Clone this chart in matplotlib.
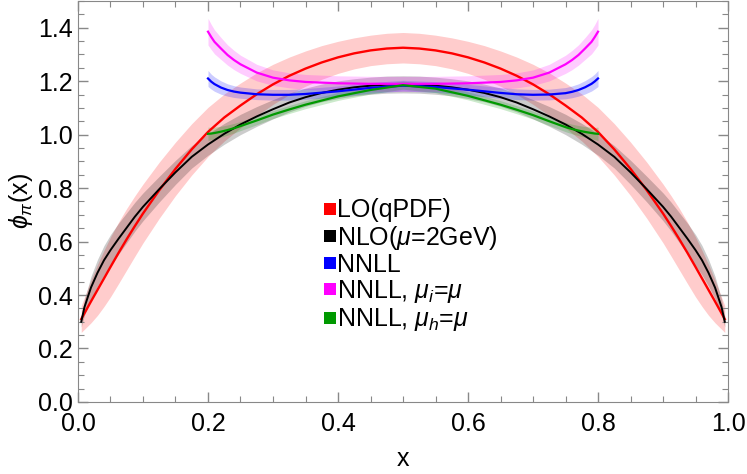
import matplotlib
matplotlib.use("Agg")
import matplotlib.pyplot as plt
from matplotlib.lines import Line2D
from matplotlib.ticker import MultipleLocator, FormatStrFormatter

plt.rcParams['font.family'] = ['Liberation Sans', 'DejaVu Sans']
plt.rcParams['mathtext.fontset'] = 'custom'
plt.rcParams['mathtext.rm'] = 'Liberation Sans'
plt.rcParams['mathtext.it'] = 'Liberation Sans:italic'

# LO (qPDF) and NLO curves
lo_x = [0.005, 0.01, 0.02, 0.03, 0.04, 0.05, 0.0625, 0.075, 0.0875, 0.1, 0.125, 0.15, 0.175, 0.2,
        0.225, 0.25, 0.275, 0.3, 0.325, 0.35, 0.375, 0.4, 0.425, 0.45, 0.475, 0.5,
        0.525, 0.55, 0.575, 0.6, 0.625, 0.65, 0.675, 0.7, 0.725, 0.75, 0.775,
        0.8, 0.825, 0.85, 0.875, 0.9, 0.9125, 0.925, 0.9375, 0.95, 0.96, 0.97, 0.98, 0.99, 0.995]
lo_y = [0.31, 0.332, 0.376, 0.419, 0.462, 0.505, 0.558, 0.609, 0.658, 0.705, 0.792, 0.872, 0.945, 1.01,
        1.064, 1.109, 1.151, 1.188, 1.22, 1.247, 1.27, 1.289, 1.304, 1.315, 1.322, 1.325,
        1.322, 1.315, 1.304, 1.289, 1.27, 1.247, 1.22, 1.188, 1.151, 1.109, 1.064,
        1.01, 0.945, 0.872, 0.792, 0.705, 0.658, 0.609, 0.558, 0.505, 0.462, 0.419, 0.376, 0.332, 0.31]
lo_err = [0.05, 0.06, 0.08, 0.095, 0.105, 0.112, 0.115, 0.115, 0.113, 0.11, 0.105, 0.1, 0.096, 0.092,
          0.088, 0.084, 0.08, 0.075, 0.07, 0.066, 0.063, 0.06, 0.058, 0.057, 0.057, 0.057,
          0.057, 0.057, 0.058, 0.06, 0.063, 0.066, 0.07, 0.075, 0.08, 0.084, 0.088,
          0.092, 0.096, 0.1, 0.105, 0.11, 0.113, 0.115, 0.115, 0.112, 0.105, 0.095, 0.08, 0.06, 0.05]
nlo_y = [0.30, 0.355, 0.428, 0.483, 0.53, 0.568, 0.611, 0.652, 0.693, 0.73, 0.796, 0.859, 0.917, 0.963,
         1.003, 1.038, 1.068, 1.095, 1.12, 1.14, 1.156, 1.168, 1.177, 1.183, 1.187, 1.188,
         1.187, 1.183, 1.177, 1.168, 1.156, 1.14, 1.12, 1.095, 1.068, 1.038, 1.003,
         0.963, 0.917, 0.859, 0.796, 0.73, 0.693, 0.652, 0.611, 0.568, 0.53, 0.483, 0.428, 0.355, 0.30]
nlo_err = [0.02, 0.03, 0.042, 0.05, 0.055, 0.058, 0.058, 0.056, 0.054, 0.052, 0.048, 0.045, 0.042, 0.04,
           0.039, 0.038, 0.037, 0.036, 0.035, 0.034, 0.033, 0.033, 0.032, 0.032, 0.032, 0.032,
           0.032, 0.032, 0.032, 0.033, 0.033, 0.034, 0.035, 0.036, 0.037, 0.038, 0.039,
           0.04, 0.042, 0.045, 0.048, 0.052, 0.054, 0.056, 0.058, 0.058, 0.055, 0.05, 0.042, 0.03, 0.02]

# NNLL curves
nnll_x = [0.2, 0.205, 0.21, 0.22, 0.23, 0.24, 0.25, 0.275, 0.3, 0.325, 0.35, 0.4, 0.45, 0.5,
          0.55, 0.6, 0.65, 0.675, 0.7, 0.725, 0.75, 0.76, 0.77, 0.78, 0.79, 0.795, 0.8]
nnll_y = [1.21, 1.198, 1.189, 1.176, 1.167, 1.161, 1.157, 1.151, 1.149, 1.149, 1.152, 1.162, 1.175, 1.183,
          1.178, 1.168, 1.156, 1.151, 1.149, 1.15, 1.155, 1.16, 1.167, 1.177, 1.19, 1.199, 1.21]
nnll_err = [0.03, 0.028, 0.027, 0.025, 0.023, 0.022, 0.021, 0.02, 0.02, 0.02, 0.02, 0.02, 0.02, 0.02,
            0.02, 0.02, 0.02, 0.02, 0.02, 0.02, 0.021, 0.022, 0.023, 0.025, 0.027, 0.028, 0.03]
nnll_i_y = [1.385, 1.365, 1.347, 1.322, 1.298, 1.279, 1.263, 1.232, 1.213, 1.203, 1.197, 1.192, 1.19, 1.19,
            1.19, 1.192, 1.197, 1.203, 1.213, 1.232, 1.263, 1.279, 1.298, 1.322, 1.347, 1.365, 1.385]
nnll_i_err = [0.05, 0.047, 0.045, 0.041, 0.038, 0.036, 0.034, 0.031, 0.029, 0.028, 0.028, 0.028, 0.028, 0.028,
              0.028, 0.028, 0.028, 0.028, 0.029, 0.031, 0.034, 0.036, 0.038, 0.041, 0.045, 0.047, 0.05]
nnll_h_y = [1.003, 1.004, 1.006, 1.011, 1.017, 1.024, 1.032, 1.053, 1.075, 1.094, 1.112, 1.143, 1.167, 1.185,
            1.172, 1.145, 1.112, 1.093, 1.073, 1.05, 1.028, 1.021, 1.015, 1.01, 1.006, 1.004, 1.003]
nnll_h_err = [0.025, 0.023, 0.022, 0.02, 0.019, 0.018, 0.017, 0.016, 0.015, 0.015, 0.015, 0.015, 0.015, 0.015,
              0.015, 0.015, 0.015, 0.015, 0.015, 0.016, 0.017, 0.018, 0.019, 0.02, 0.022, 0.023, 0.025]

labels = ['LO(qPDF)', r'NLO($\mu$=2GeV)', 'NNLL', r'NNLL, $\mu_i$=$\mu$', r'NNLL, $\mu_h$=$\mu$']
colors = ['#ff0000', '#000000', '#0000ff', '#ff00ff', '#009900']
widths = [1.7, 1.4, 1.6, 1.6, 1.6]

fig = plt.figure(figsize=(7.47, 4.74), dpi=100)
ax = fig.add_axes([0.1044, 0.152, 0.8702, 0.846])

curves = [(lo_x, lo_y, lo_err), (lo_x, nlo_y, nlo_err), (nnll_x, nnll_y, nnll_err),
          (nnll_x, nnll_i_y, nnll_i_err), (nnll_x, nnll_h_y, nnll_h_err)]

# bands first, lines on top
for (xs, ys, es), c in zip(curves, colors):
    lower = [y - e for y, e in zip(ys, es)]
    upper = [y + e for y, e in zip(ys, es)]
    ax.fill_between(xs, lower, upper, color=c, alpha=0.2, lw=0)
for (xs, ys, es), c, w in zip(curves, colors, widths):
    ax.plot(xs, ys, color=c, lw=w, solid_joinstyle='round')

ax.set_xlim(0, 1)
ax.set_ylim(0, 1.5)
ax.xaxis.set_major_locator(MultipleLocator(0.2))
ax.xaxis.set_minor_locator(MultipleLocator(0.05))
ax.yaxis.set_major_locator(MultipleLocator(0.2))
ax.yaxis.set_minor_locator(MultipleLocator(0.05))
ax.xaxis.set_major_formatter(FormatStrFormatter('%.1f'))
ax.yaxis.set_major_formatter(FormatStrFormatter('%.1f'))
ax.tick_params(which='both', direction='in', top=True, right=True, color='#888888', labelsize=18)
ax.tick_params(which='major', length=7, width=1)
ax.tick_params(which='minor', length=4, width=0.8)
ax.tick_params(axis='x', pad=7)
ax.tick_params(axis='y', pad=4)
for s in ax.spines.values():
    s.set_color('#888888')

ax.set_xlabel('x', fontsize=18, labelpad=8)
ax.set_ylabel(r'$\phi_\pi$(x)', fontsize=18, labelpad=2)

handles = [Line2D([], [], ls='none', marker='s', markersize=8, color=c, markeredgewidth=0) for c in colors]
ax.legend(handles, labels, loc='upper left', bbox_to_anchor=(0.362, 0.5325), frameon=False, fontsize=18,
          handlelength=0.5, handletextpad=0.05, labelspacing=0.05, borderaxespad=0)

fig.savefig('out.png', dpi=100)
